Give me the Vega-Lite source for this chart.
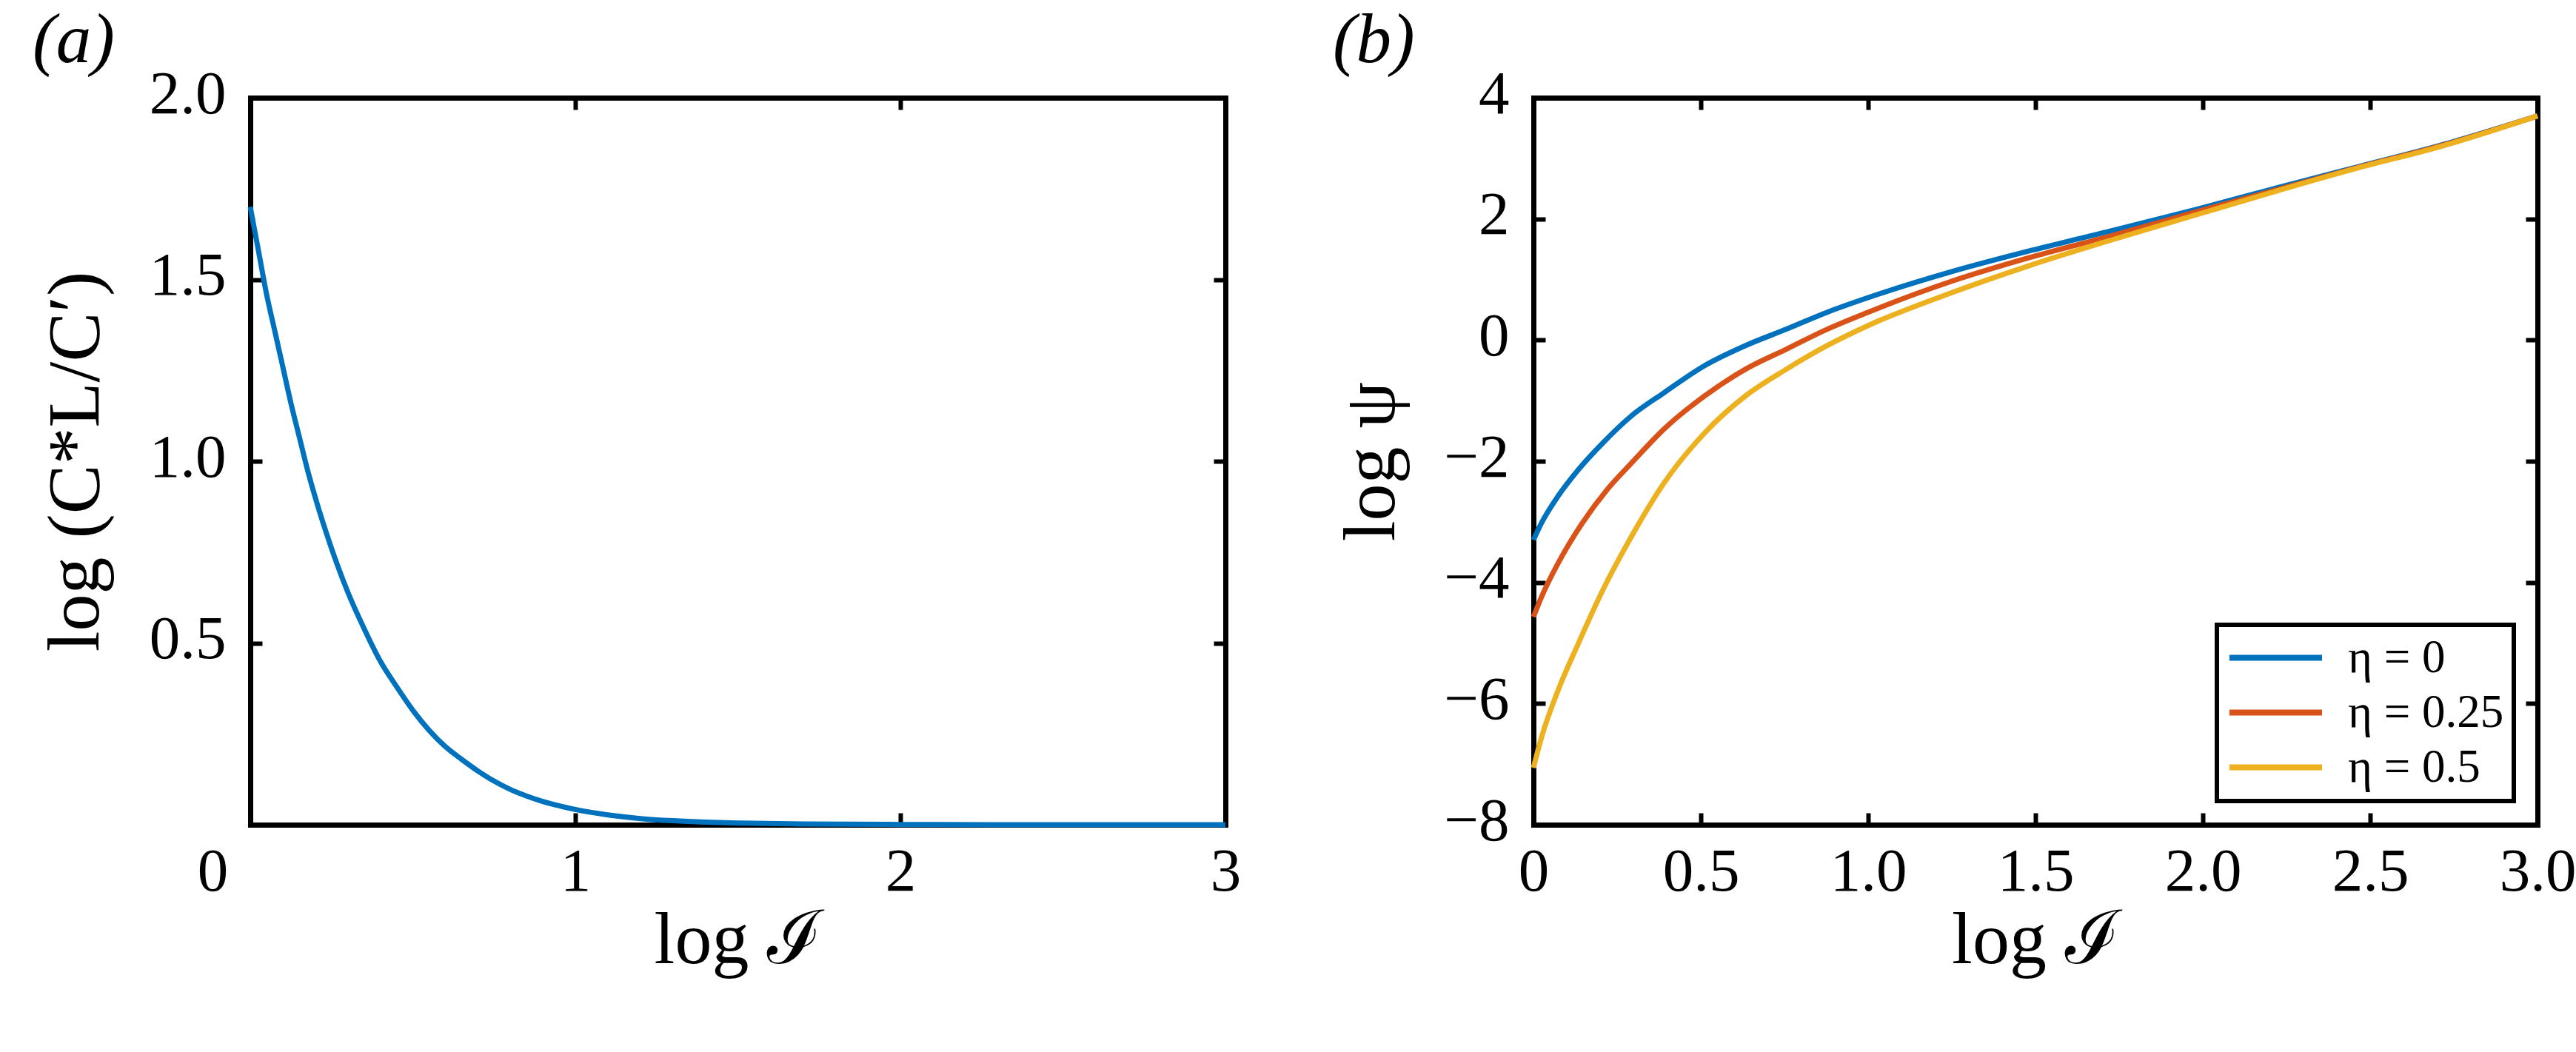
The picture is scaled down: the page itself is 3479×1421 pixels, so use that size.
{
  "$schema": "https://vega.github.io/schema/vega-lite/v6.json",
  "background": "white",
  "padding": {"left": 44, "top": 8, "right": 0, "bottom": 60},
  "spacing": 416,
  "bounds": "flush",
  "resolve": {"legend": {"color": "independent"}, "scale": {"color": "independent"}},
  "config": {
    "view": {"stroke": null},
    "font": "Liberation Serif",
    "axis": {
      "domainColor": "black", "domainWidth": 7, "domainCap": "square",
      "tickColor": "black", "tickWidth": 6, "tickSize": -16,
      "labelFont": "Liberation Serif", "labelFontSize": 83, "labelColor": "black",
      "labelFlush": false, "labelOverlap": false, "labelBound": false,
      "titleFont": "Liberation Serif", "titleFontSize": 100, "titleFontWeight": "normal", "titleColor": "black",
      "grid": false
    },
    "axisX": {"labelPadding": 38, "titlePadding": 2, "labelBaseline": "top"},
    "axisY": {"labelPadding": 49, "labelBaseline": "middle", "labelOffset": -5},
    "legend": {
      "orient": "bottom-right", "offset": 32, "padding": 13, "rowPadding": 10, "labelOffset": 31,
      "symbolType": "stroke", "symbolSize": 15625, "symbolStrokeWidth": 8, "clipHeight": 63,
      "labelFont": "Liberation Serif", "labelFontSize": 63, "labelColor": "black", "labelLimit": 0,
      "strokeColor": "black", "strokeWidth": 6, "fillColor": "white"
    }
  },
  "hconcat": [
    {
      "width": 1317,
      "height": 982,
      "layer": [
        {
          "data": {"values": [
            {"x": 0, "y": 1.70}, {"x": 0.025, "y": 1.58}, {"x": 0.05, "y": 1.46}, {"x": 0.075, "y": 1.36},
            {"x": 0.1, "y": 1.26}, {"x": 0.125, "y": 1.16}, {"x": 0.15, "y": 1.07}, {"x": 0.175, "y": 0.98},
            {"x": 0.2, "y": 0.90}, {"x": 0.25, "y": 0.76}, {"x": 0.3, "y": 0.64}, {"x": 0.35, "y": 0.54},
            {"x": 0.4, "y": 0.45}, {"x": 0.45, "y": 0.38}, {"x": 0.5, "y": 0.315}, {"x": 0.55, "y": 0.26},
            {"x": 0.6, "y": 0.215}, {"x": 0.65, "y": 0.18}, {"x": 0.7, "y": 0.148}, {"x": 0.75, "y": 0.12},
            {"x": 0.8, "y": 0.097}, {"x": 0.85, "y": 0.079}, {"x": 0.9, "y": 0.064}, {"x": 0.95, "y": 0.052},
            {"x": 1.0, "y": 0.042}, {"x": 1.1, "y": 0.027}, {"x": 1.2, "y": 0.017}, {"x": 1.3, "y": 0.011},
            {"x": 1.4, "y": 0.007}, {"x": 1.5, "y": 0.0045}, {"x": 1.7, "y": 0.002}, {"x": 2.0, "y": 0.0007},
            {"x": 2.5, "y": 0.0001}, {"x": 3.0, "y": 0}
          ]},
          "mark": {"type": "line", "color": "#0072BD", "strokeWidth": 7, "interpolate": "monotone"},
          "encoding": {
            "x": {"field": "x", "type": "quantitative",
              "scale": {"domain": [0, 3], "nice": false, "zero": false},
              "axis": {"orient": "bottom", "values": [0, 1, 2, 3], "format": "d", "title": "log ℐ",
                "labelOffset": {"condition": {"test": "datum.value === 0", "value": -51}, "value": 0}}},
            "y": {"field": "y", "type": "quantitative",
              "scale": {"domain": [0, 2], "nice": false, "zero": false},
              "axis": {"orient": "left", "values": [0.5, 1, 1.5, 2], "format": ".1f", "title": "log (C*L/C′)", "titlePadding": 48}}
          }
        },
        {
          "data": {"values": [{}]},
          "mark": {"type": "text", "text": "(a)", "font": "Liberation Serif", "fontSize": 95, "fontStyle": "italic", "align": "left", "baseline": "top", "color": "black"},
          "encoding": {
            "x": {"datum": -0.6697, "type": "quantitative",
              "scale": {"domain": [0, 3], "nice": false, "zero": false},
              "axis": {"orient": "top", "values": [0, 1, 2, 3], "labels": false, "title": null}},
            "y": {"datum": 2.2505, "type": "quantitative",
              "scale": {"domain": [0, 2], "nice": false, "zero": false},
              "axis": {"orient": "right", "values": [0.5, 1, 1.5, 2], "labels": false, "title": null}}
          }
        }
      ],
      "resolve": {"axis": {"x": "independent", "y": "independent"}}
    },
    {
      "width": 1356,
      "height": 982,
      "layer": [
        {
          "data": {"values": [
            {"x": 0, "y": -3.30, "eta": "η = 0"}, {"x": 0.024, "y": -3.02, "eta": "η = 0"}, {"x": 0.073, "y": -2.58, "eta": "η = 0"},
            {"x": 0.134, "y": -2.14, "eta": "η = 0"}, {"x": 0.207, "y": -1.70, "eta": "η = 0"}, {"x": 0.293, "y": -1.25, "eta": "η = 0"},
            {"x": 0.39, "y": -0.87, "eta": "η = 0"}, {"x": 0.512, "y": -0.42, "eta": "η = 0"}, {"x": 0.634, "y": -0.09, "eta": "η = 0"},
            {"x": 0.756, "y": 0.18, "eta": "η = 0"}, {"x": 0.878, "y": 0.46, "eta": "η = 0"}, {"x": 1.0, "y": 0.70, "eta": "η = 0"},
            {"x": 1.244, "y": 1.12, "eta": "η = 0"}, {"x": 1.488, "y": 1.48, "eta": "η = 0"}, {"x": 1.732, "y": 1.81, "eta": "η = 0"},
            {"x": 1.976, "y": 2.15, "eta": "η = 0"}, {"x": 2.22, "y": 2.51, "eta": "η = 0"}, {"x": 2.463, "y": 2.86, "eta": "η = 0"},
            {"x": 2.707, "y": 3.21, "eta": "η = 0"}, {"x": 3.0, "y": 3.70, "eta": "η = 0"},
            {"x": 0, "y": -4.57, "eta": "η = 0.25"}, {"x": 0.024, "y": -4.24, "eta": "η = 0.25"}, {"x": 0.073, "y": -3.69, "eta": "η = 0.25"},
            {"x": 0.146, "y": -3.02, "eta": "η = 0.25"}, {"x": 0.22, "y": -2.47, "eta": "η = 0.25"}, {"x": 0.293, "y": -2.03, "eta": "η = 0.25"},
            {"x": 0.39, "y": -1.47, "eta": "η = 0.25"}, {"x": 0.512, "y": -0.92, "eta": "η = 0.25"}, {"x": 0.634, "y": -0.48, "eta": "η = 0.25"},
            {"x": 0.756, "y": -0.15, "eta": "η = 0.25"}, {"x": 0.878, "y": 0.18, "eta": "η = 0.25"}, {"x": 1.0, "y": 0.46, "eta": "η = 0.25"},
            {"x": 1.244, "y": 0.96, "eta": "η = 0.25"}, {"x": 1.488, "y": 1.37, "eta": "η = 0.25"}, {"x": 1.732, "y": 1.73, "eta": "η = 0.25"},
            {"x": 1.976, "y": 2.11, "eta": "η = 0.25"}, {"x": 2.22, "y": 2.48, "eta": "η = 0.25"}, {"x": 2.463, "y": 2.85, "eta": "η = 0.25"},
            {"x": 2.707, "y": 3.20, "eta": "η = 0.25"}, {"x": 3.0, "y": 3.70, "eta": "η = 0.25"},
            {"x": 0, "y": -7.06, "eta": "η = 0.5"}, {"x": 0.024, "y": -6.56, "eta": "η = 0.5"}, {"x": 0.073, "y": -5.79, "eta": "η = 0.5"},
            {"x": 0.134, "y": -5.01, "eta": "η = 0.5"}, {"x": 0.207, "y": -4.13, "eta": "η = 0.5"}, {"x": 0.293, "y": -3.24, "eta": "η = 0.5"},
            {"x": 0.39, "y": -2.36, "eta": "η = 0.5"}, {"x": 0.512, "y": -1.53, "eta": "η = 0.5"}, {"x": 0.634, "y": -0.92, "eta": "η = 0.5"},
            {"x": 0.756, "y": -0.48, "eta": "η = 0.5"}, {"x": 0.878, "y": -0.09, "eta": "η = 0.5"}, {"x": 1.0, "y": 0.24, "eta": "η = 0.5"},
            {"x": 1.244, "y": 0.77, "eta": "η = 0.5"}, {"x": 1.488, "y": 1.24, "eta": "η = 0.5"}, {"x": 1.732, "y": 1.66, "eta": "η = 0.5"},
            {"x": 1.976, "y": 2.06, "eta": "η = 0.5"}, {"x": 2.22, "y": 2.46, "eta": "η = 0.5"}, {"x": 2.463, "y": 2.84, "eta": "η = 0.5"},
            {"x": 2.707, "y": 3.19, "eta": "η = 0.5"}, {"x": 3.0, "y": 3.70, "eta": "η = 0.5"}
          ]},
          "mark": {"type": "line", "strokeWidth": 7, "interpolate": "monotone"},
          "encoding": {
            "x": {"field": "x", "type": "quantitative",
              "scale": {"domain": [0, 3], "nice": false, "zero": false},
              "axis": {"orient": "bottom", "values": [0, 0.5, 1, 1.5, 2, 2.5, 3], "title": "log ℐ",
                "labelExpr": "datum.value === 0 ? '0' : format(datum.value, '.1f')"}},
            "y": {"field": "y", "type": "quantitative",
              "scale": {"domain": [-8, 4], "nice": false, "zero": false},
              "axis": {"orient": "left", "values": [-8, -6, -4, -2, 0, 2, 4], "format": "d", "title": "log ψ", "titlePadding": 46}},
            "color": {"field": "eta", "type": "nominal",
              "scale": {"domain": ["η = 0", "η = 0.25", "η = 0.5"], "range": ["#0072BD", "#D95319", "#EDB120"]},
              "legend": {"title": null, "orient": "bottom-right", "offset": 32}}
          }
        },
        {
          "data": {"values": [{}]},
          "mark": {"type": "text", "text": "(b)", "font": "Liberation Serif", "fontSize": 95, "fontStyle": "italic", "align": "left", "baseline": "top", "color": "black"},
          "encoding": {
            "x": {"datum": -0.5996, "type": "quantitative",
              "scale": {"domain": [0, 3], "nice": false, "zero": false},
              "axis": {"orient": "top", "values": [0, 0.5, 1, 1.5, 2, 2.5, 3], "labels": false, "title": null}},
            "y": {"datum": 5.503, "type": "quantitative",
              "scale": {"domain": [-8, 4], "nice": false, "zero": false},
              "axis": {"orient": "right", "values": [-8, -6, -4, -2, 0, 2, 4], "labels": false, "title": null}}
          }
        }
      ],
      "resolve": {"axis": {"x": "independent", "y": "independent"}}
    }
  ]
}
